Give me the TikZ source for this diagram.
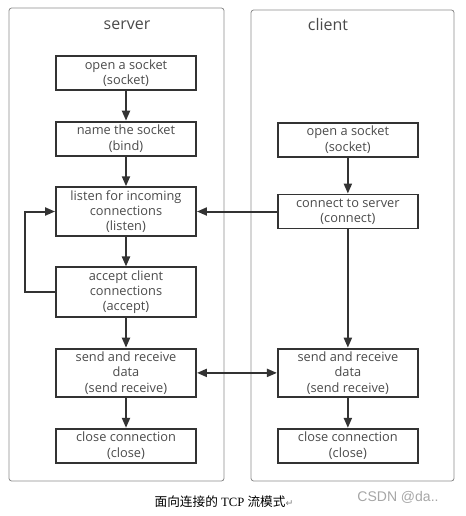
\documentclass[tikz,border=0pt]{standalone}
\usepackage{fontspec}
\setmainfont{Open Sans}
\newfontfamily\cjk{Noto Sans CJK SC}
\newfontfamily\capserif{Liberation Serif}
\newfontfamily\wmfont{Liberation Sans}
\newfontfamily\symb{DejaVu Sans}
\usepackage{tikz}
\usetikzlibrary{arrows.meta, positioning}

\definecolor{boxline}{HTML}{333333}
\definecolor{boxtext}{HTML}{4A4A4A}
\definecolor{frameline}{HTML}{8C8C8C}

\begin{document}
\begin{tikzpicture}[x=0.75pt, y=-0.75pt, >={Triangle[length=7.5pt,width=6pt]},
node distance=22.3pt,
flow/.style={->, draw=boxline, line width=1.5pt},
proc/.style={rectangle, draw=boxline, line width=1.4pt, minimum width=105pt,
  minimum height=25.5pt, inner xsep=2pt, inner ysep=2.3pt, align=center, text=boxtext,
  font=\fontsize{9.6}{11.5}\selectfont}]

\useasboundingbox (0,0) rectangle (465,516);

% the two sides
\draw[frameline, line width=0.6pt, rounded corners=2pt] (9,8) rectangle (224,481);
\draw[frameline, line width=0.6pt, rounded corners=2pt] (251,10) rectangle (454,481);
\node [text=boxtext, font=\fontsize{12}{14}\selectfont] (srvlabel) at (127,25) {server};
\node [text=boxtext, font=\fontsize{12}{14}\selectfont] (cltlabel) at (328,25) {client};

% server
\node [proc] (sock) at (126,73) {open a socket\\(socket)};
\node [proc] (bind) [below=of sock] {name the socket\\(bind)};
\node [proc] (lis) [below=of bind] {listen for incoming\\connections\\(listen)};
\node [proc] (acc) [below=of lis] {accept client\\connections\\(accept)};
\node [proc] (send) [below=of acc] {send and receive\\data\\(send receive)};
\node [proc] (close) [below=of send] {close connection\\(close)};

\draw [flow] (sock) -- (bind);
\draw [flow] (bind) -- (lis);
\draw [flow] (lis) -- (acc);
\draw [flow] (acc) -- (send);
\draw [flow] (send) -- (close);
\draw [flow] (acc.west) -- ++(-30,0) |- (lis.west);

% client
\node [proc] (conn) [right=60pt of lis] {connect to server\\(connect)};
\node [proc] (csock) [above=27pt of conn] {open a socket\\(socket)};
\node [proc] (csend) [right=60pt of send] {send and receive\\data\\(send receive)};
\node [proc] (cclose) [right=60pt of close] {close connection\\(close)};

\draw [flow] (csock) -- (conn);
\draw [flow] (conn) -- (lis);
\draw [flow] (conn) -- (csend);
\draw [flow] (csend) -- (cclose);
\draw [flow, <->] (send) -- (csend);

% caption
\node [font=\fontsize{9.5}{11}\selectfont] (cap) at (224,502)
  {\cjk 面向连接的{\capserif\ TCP }流模式{\color{gray}\symb\fontsize{7}{8}\selectfont ↵}};
\node [text=gray!70, font=\wmfont\fontsize{10.5}{12}\selectfont] (mark) at (398,497) {CSDN @da..};

\end{tikzpicture}
\end{document}
